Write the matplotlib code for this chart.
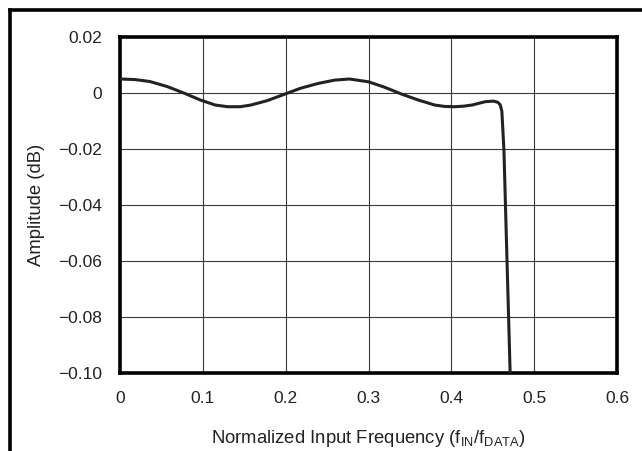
import matplotlib
matplotlib.use('Agg')
import matplotlib.pyplot as plt
from matplotlib.lines import Line2D

plt.rcParams['font.family'] = ['Liberation Sans', 'DejaVu Sans']

# values
freq = [0.0, 0.018, 0.036, 0.057, 0.077, 0.097, 0.115, 0.13, 0.145, 0.158, 0.178,
        0.198, 0.218, 0.239, 0.259, 0.277, 0.30, 0.32, 0.34, 0.36, 0.38,
        0.392, 0.404, 0.415, 0.425, 0.441, 0.451, 0.456, 0.459, 0.461, 0.4635, 0.471]
amplitude = [0.005, 0.0048, 0.0041, 0.0023, 0.0, -0.0025, -0.0043, -0.0049, -0.0049, -0.0043, -0.0027,
             -0.0005, 0.0017, 0.0034, 0.0046, 0.005, 0.0040, 0.0020, -0.0004, -0.0025, -0.0043,
             -0.0048, -0.0049, -0.0047, -0.0043, -0.0031, -0.0029, -0.0033, -0.0042, -0.0065, -0.0204, -0.10]

x_ticks = [0, 0.1, 0.2, 0.3, 0.4, 0.5, 0.6]
x_labels = ['0', '0.1', '0.2', '0.3', '0.4', '0.5', '0.6']
y_ticks = [0.02, 0, -0.02, -0.04, -0.06, -0.08, -0.10]
y_labels = ['0.02', '0', '\u22120.02', '\u22120.04', '\u22120.06', '\u22120.08', '\u22120.10']

fig = plt.figure(figsize=(6.42, 4.51), dpi=100)
ax = fig.add_axes([120 / 642, 1 - 373 / 451, 497 / 642, 336 / 451])

ax.plot(freq, amplitude, color='#222222', linewidth=2.2, solid_capstyle='butt', zorder=3)

ax.set_xlim(0, 0.6)
ax.set_ylim(-0.10, 0.02)
ax.set_xticks(x_ticks)
ax.set_xticklabels(x_labels)
ax.set_yticks(y_ticks)
ax.set_yticklabels(y_labels)
ax.tick_params(length=0, labelsize=12.5, colors='#222222')
ax.tick_params(axis='x', pad=13)
ax.tick_params(axis='y', pad=13)
ax.grid(True, color='#3a3a3a', linewidth=0.8)
for s in ax.spines.values():
    s.set_linewidth(2.6)
    s.set_color('black')

ax.set_xlabel('Normalized Input Frequency (f$_{\\mathregular{IN}}$/f$_{\\mathregular{DATA}}$)',
              fontsize=13.3, color='#222222', labelpad=16)
ax.set_ylabel('Amplitude (dB)', fontsize=13.3, color='#222222', labelpad=9)

# outer frame (left and top edges visible)
fig.add_artist(Line2D([9.5 / 642, 9.5 / 642], [0, 1 - 9.5 / 451], transform=fig.transFigure,
                      color='black', linewidth=2.6, solid_capstyle='projecting'))
fig.add_artist(Line2D([9.5 / 642, 1], [1 - 9.5 / 451, 1 - 9.5 / 451], transform=fig.transFigure,
                      color='black', linewidth=2.6, solid_capstyle='projecting'))

fig.savefig('out.png', dpi=100)
